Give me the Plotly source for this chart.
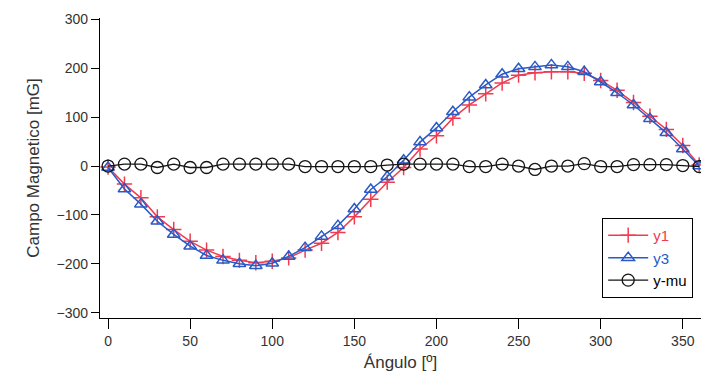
import plotly.graph_objects as go

angle = list(range(0, 361, 10))

y1 = [-2, -37, -65, -104, -130, -154, -172, -185, -193, -198, -195, -188, -172, -158,
      -136, -104, -68, -33, -3, 35, 62, 98, 125, 148, 170, 186, 191, 193, 193, 190,
      175, 155, 130, 102, 75, 42, 2]

y3 = [-3, -47, -78, -113, -140, -164, -183, -193, -200, -204, -199, -185, -167, -144,
      -122, -88, -48, -22, 12, 49, 78, 111, 141, 166, 188, 199, 203, 207, 203, 193,
      172, 150, 125, 97, 68, 35, 0]

ymu = [0, 4, 4, -3, 4, -3, -3, 4, 4, 4, 4, 4, -1, -1, -1, -1, -1, 2, 4, 4, 4, 4,
       -1, -1, 4, 0, -7, 0, 0, 5, -1, -1, 3, 3, 3, 1, -1]

xticks = [0, 50, 100, 150, 200, 250, 300, 350]
yticks = [-300, -200, -100, 0, 100, 200, 300]

RED = "rgb(240,60,80)"
BLUE = "rgb(40,90,200)"
BLACK = "rgb(20,20,20)"

fig = go.Figure()
fig.add_trace(go.Scatter(x=angle, y=y1, name=f"<span style='color:{RED}'>y1</span>",
                         mode="lines+markers",
                         line=dict(color=RED, width=1.5),
                         marker=dict(symbol="cross-thin", size=11,
                                     line=dict(color=RED, width=1.5))))
fig.add_trace(go.Scatter(x=angle, y=y3, name=f"<span style='color:{BLUE}'>y3</span>",
                         mode="lines+markers",
                         line=dict(color=BLUE, width=1.5),
                         marker=dict(symbol="triangle-up-open", size=11, color=BLUE,
                                     line=dict(color=BLUE, width=1.5))))
fig.add_trace(go.Scatter(x=angle, y=ymu, name="<span style='color:black'>y-mu</span>",
                         mode="lines+markers",
                         line=dict(color=BLACK, width=1.3),
                         marker=dict(symbol="circle-open", size=12, color=BLACK,
                                     line=dict(color=BLACK, width=1.3))))

font_family = "Liberation Sans, Arial, sans-serif"
fig.update_layout(
    width=701, height=392,
    margin=dict(l=100, r=0, t=18, b=74),
    paper_bgcolor="white", plot_bgcolor="white",
    font=dict(family=font_family, size=14, color="#333333"),
    showlegend=True,
    legend=dict(x=0.987, y=0.067, xanchor="right", yanchor="bottom",
                bordercolor="black", borderwidth=1, bgcolor="white",
                font=dict(size=15), tracegroupgap=0, itemwidth=40),
    xaxis=dict(range=[-4.9, 361.1], tickvals=xticks, ticks="outside", ticklen=10,
               tickcolor="black", showline=True, linecolor="black", linewidth=1.3,
               showgrid=False, zeroline=False,
               title=dict(text="Ángulo [º]", standoff=8)),
    yaxis=dict(range=[-311, 303], tickvals=yticks, ticks="outside", ticklen=8,
               tickcolor="black", showline=True, linecolor="black", linewidth=1.3,
               showgrid=False, zeroline=False,
               title=dict(text="Campo Magnetico [mG]", standoff=12)),
)

fig.write_html("out.html")
